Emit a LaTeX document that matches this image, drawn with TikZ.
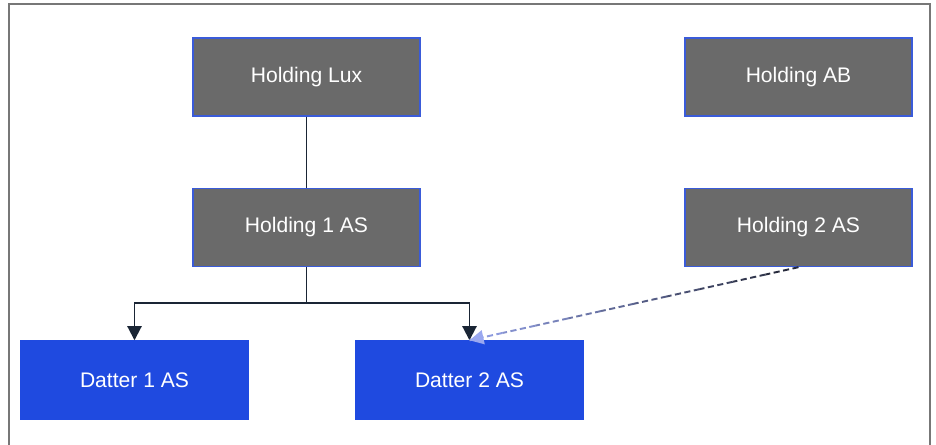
\documentclass[tikz,border=0pt]{standalone}
\usepackage{fontspec}
\setmainfont{Liberation Sans}
\usepackage{tikz}
\usetikzlibrary{arrows.meta,calc}

\definecolor{holdgray}{HTML}{6A6A6A}
\definecolor{holdedge}{HTML}{3A5BD9}
\definecolor{datterblue}{HTML}{1F4AE0}
\definecolor{linknavy}{HTML}{1A2535}
\definecolor{linkdark}{HTML}{262A3C}
\definecolor{linklight}{HTML}{9AA8F0}
\definecolor{framegray}{HTML}{777777}

\tikzset{
    holding/.style={draw=holdedge, line width=0.8pt, fill=holdgray, text=white,
        minimum width=4.54cm, minimum height=1.56cm, font=\fontsize{12}{14}\selectfont},
    datter/.style={holding, draw=datterblue, fill=datterblue},
    owns/.style={draw=linknavy, line width=1.1pt, -{Triangle[width=8pt,length=8pt]}},
}

\begin{document}
\begin{tikzpicture}
    \useasboundingbox (0,0) rectangle (18.72,-8.9);
    \draw[framegray, line width=1pt] (0.18,-8.9) -- (0.18,-0.08) -- (18.6,-0.08) -- (18.6,-8.9);

    \node[holding] (lux) at (6.13, -1.54) {Holding Lux};
    \node[holding] (ab) at (15.97, -1.54) {Holding AB};
    \node[holding] (holding1) at (6.13, -4.55) {Holding 1 AS};
    \node[holding] (holding2) at (15.97, -4.55) {Holding 2 AS};
    \node[datter] (datter1) at (2.69, -7.6) {Datter 1 AS};
    \node[datter] (datter2) at (9.39, -7.6) {Datter 2 AS};

    % ownership lines
    \draw[linknavy, line width=1.1pt] (lux) -- (holding1);
    \draw[owns] (holding1.south) -- ++(0,-0.72) -| (datter1.north);
    \draw[owns] (holding1.south) -- ++(0,-0.72) -| (datter2.north);

    % dashed link, dark to light
    \foreach \i in {0,...,9} {
        \pgfmathsetmacro{\share}{100-\i*10}
        \draw[linkdark!\share!linklight, dash pattern=on 3.5pt off 2pt, line width=1.1pt]
            ($(holding2.south)!\i/10!(datter2.north)$) -- ($(holding2.south)!\i/10+0.1!(datter2.north)$);
    }
    \draw[linklight, line width=1.1pt, -{Triangle[width=8pt,length=8pt]}]
        ($(holding2.south)!0.96!(datter2.north)$) -- (datter2.north);
\end{tikzpicture}
\end{document}
